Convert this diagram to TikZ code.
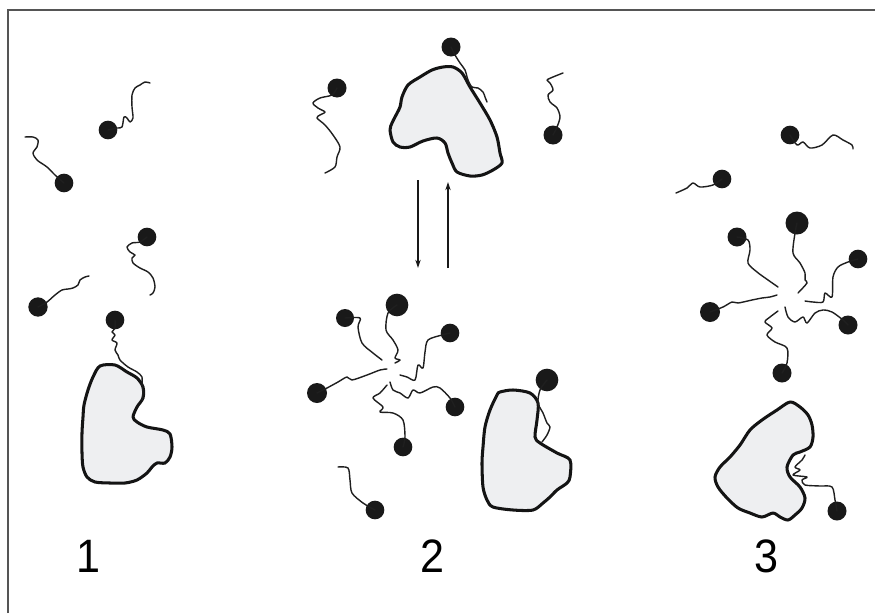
\documentclass[tikz,border=0pt]{standalone}
\usepackage{fontspec}
\setmainfont{Liberation Sans}
\usetikzlibrary{arrows.meta}
\definecolor{blobgray}{RGB}{238,239,241}
\definecolor{framegray}{RGB}{85,85,85}
% amphiphile: head node name, head position, head diameter, tail points
\newcommand\amphi[4]{%
  \node[headball=#3] (#1) at (#2) {};
  \draw[tail] plot[smooth, tension=0.5] coordinates {(#1.center) #4};}
\begin{document}
\begin{tikzpicture}[x=0.03cm,y=-0.03cm,
  blob/.style={draw=black!92, line width=2.6pt, fill=blobgray, line join=round},
  tail/.style={draw=black!88, line width=1.2pt, line cap=round, line join=round},
  headball/.style={circle, fill=black!90, inner sep=0pt, minimum size=#1},
  headball/.default=0.56cm,
  numlabel/.style={font=\fontsize{40}{48}\selectfont, inner sep=0pt, xscale=0.92},
  arrowline/.style={draw=black!90, line width=1.0pt, -{Stealth[length=7pt,width=4.5pt]}}
]
\useasboundingbox (0,0) rectangle (875,613);
\fill[white] (0,0) rectangle (875,613);
% frame
\draw[framegray, line width=1.2pt] (8,613) -- (8,10) -- (875,10);

% ---------- stage 1 ----------
\draw[blob] plot[smooth cycle, tension=0.5] coordinates {
  (100,366) (115,365) (127,372) (137,378) (143,387) (143,398) (137,407)
  (133,417) (137,422) (147,427) (163,430) (170,434) (172,447) (170,457)
  (165,463) (157,463) (152,467) (147,473) (137,480) (125,483) (110,483)
  (95,482) (87,477) (83,467) (82,453) (82,433) (83,417) (84,405) (88,390)
  (93,377)};
\amphi{h1a}{64,183}{0.56cm}{(55,175) (47,167) (37,160) (33,153) (37,147) (38,140) (33,137) (25,137)}
\amphi{h1b}{108,130}{0.56cm}{(117,128) (122,127) (124,117) (127,118) (130,122) (133,118) (132,107) (132,95) (135,88) (140,85) (145,82) (150,83)}
\amphi{h1c}{147,237}{0.56cm}{(140,242) (132,243) (127,247) (130,252) (135,255) (132,258) (133,263) (140,268) (148,272) (153,278) (155,287) (153,293) (150,295)}
\amphi{h1d}{38,307}{0.58cm}{(47,302) (55,295) (62,290) (68,289) (73,288) (78,285) (80,280) (85,277) (89,276)}
\amphi{h1e}{115,320}{0.56cm}{(115,328) (112,332) (115,335) (112,340) (117,343) (115,350) (118,355) (120,360) (128,367) (137,372) (142,377) (142,384) (143,392) (142,400)}
\node[numlabel] (lab1) at (88,556) {1};

% ---------- stage 2: free state ----------
\draw[blob] plot[smooth cycle, tension=0.5] coordinates {
  (392,123) (395,117) (400,107) (402,97) (408,85) (420,77) (432,70) (443,67)
  (453,67) (462,73) (470,87) (480,103) (490,120) (497,137) (500,153) (502,163)
  (493,170) (482,175) (470,176) (457,172) (452,163) (448,153) (445,143)
  (437,138) (423,141) (410,147) (400,147) (393,142) (390,130)};
\amphi{h2a}{337,88}{0.57cm}{(332,95) (320,98) (313,103) (318,108) (325,112) (320,115) (317,118) (325,125) (333,135) (340,147) (337,157) (335,167) (325,173)}
\amphi{h2b}{451,47}{0.57cm}{(455,55) (460,63) (465,70) (468,80) (472,87) (478,88) (483,92) (485,97) (487,102)}
\amphi{h2c}{553,135}{0.57cm}{(557,127) (560,117) (557,108) (550,102) (548,95) (553,90) (550,83) (547,80) (553,77) (563,73)}

% equilibrium arrows
\coordinate (dnA) at (418,180);
\coordinate (dnB) at (418,268);
\coordinate (upA) at (448,268);
\coordinate (upB) at (448,182);
\draw[arrowline] (dnA) -- (dnB);
\draw[arrowline] (upA) -- (upB);

% ---------- stage 2: micelle and bound state ----------
\draw[blob] plot[smooth cycle, tension=0.5] coordinates {
  (500,392) (513,390) (530,393) (538,403) (537,420) (535,437) (540,443)
  (557,453) (570,460) (570,477) (567,483) (557,490) (550,497) (543,503)
  (533,510) (513,510) (493,507) (487,500) (483,487) (482,463) (483,447)
  (485,427) (490,410) (497,395)};
\amphi{h2d}{345,318}{0.54cm}{(360,318) (358,327) (362,343) (373,353) (382,360)}
\amphi{h2e}{397,305}{0.68cm}{(388,313) (386,330) (393,340) (398,350) (395,358) (400,360) (395,363)}
\amphi{h2f}{450,333}{0.56cm}{(442,335) (428,340) (425,352) (423,368) (418,365) (415,380) (407,377) (400,375)}
\amphi{h2g}{317,393}{0.60cm}{(327,388) (338,382) (347,377) (352,380) (367,375) (380,370) (387,369)}
\amphi{h2h}{455,407}{0.56cm}{(450,398) (440,388) (433,387) (420,393) (413,390) (408,398) (400,393) (393,390) (390,382)}
\amphi{h2i}{403,447}{0.56cm}{(405,437) (403,420) (393,413) (380,412) (383,407) (373,398) (380,393) (387,385)}
\amphi{h2j}{375,510}{0.56cm}{(363,503) (352,493) (350,480) (348,468) (338,467)}
\amphi{h2k}{547,380}{0.68cm}{(540,390) (538,403) (543,413) (547,423) (550,427) (547,435) (542,442)}
\node[numlabel] (lab2) at (432,556) {2};

% ---------- stage 3 ----------
\draw[blob] plot[smooth cycle, tension=0.5] coordinates {
  (790,402) (800,407) (808,415) (812,425) (813,437) (810,447) (800,452)
  (793,455) (787,467) (790,477) (800,487) (805,498) (802,508) (795,515)
  (788,520) (780,517) (773,513) (762,517) (750,513) (738,508) (727,498)
  (718,487) (715,477) (720,467) (730,457) (740,445) (750,430) (762,420)
  (777,410)};
\amphi{h3a}{790,135}{0.56cm}{(797,145) (803,142) (810,148) (822,145) (833,135) (843,140) (852,145) (853,149)}
\amphi{h3b}{722,179}{0.56cm}{(713,185) (700,187) (693,183) (687,188) (676,193)}
\amphi{h3c}{737,237}{0.57cm}{(748,240) (750,250) (748,263) (757,272) (768,280) (778,287)}
\amphi{h3d}{797,223}{0.69cm}{(795,233) (793,253) (800,263) (805,273) (805,280) (807,283) (798,293)}
\amphi{h3e}{858,259}{0.56cm}{(848,262) (838,267) (833,277) (832,297) (825,293) (823,302) (813,302) (805,301)}
\amphi{h3f}{710,312}{0.60cm}{(723,307) (732,302) (738,303) (752,300) (762,298) (770,297) (777,295)}
\amphi{h3g}{848,325}{0.57cm}{(843,320) (832,312) (823,310) (815,313) (807,323) (803,317) (795,322) (788,317) (785,307)}
\amphi{h3h}{782,373}{0.57cm}{(787,363) (787,348) (775,342) (767,335) (772,328) (765,322) (770,317) (778,311)}
\amphi{h3i}{837,511}{0.57cm}{(835,500) (832,487) (820,486) (805,485) (802,480) (807,477) (793,475) (800,470) (795,467) (802,460) (805,455)}
\node[numlabel] (lab3) at (766,556) {3};
\end{tikzpicture}
\end{document}
